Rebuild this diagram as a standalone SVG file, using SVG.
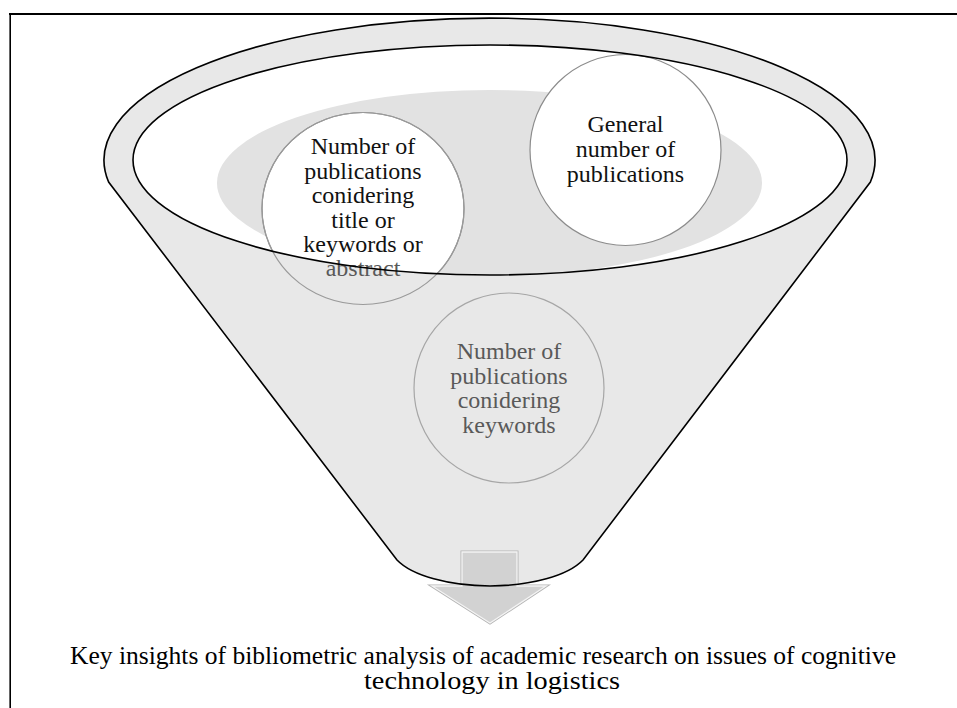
<svg xmlns="http://www.w3.org/2000/svg" width="957" height="708" viewBox="0 0 957 708">
  <style>
    text { font-family: 'Liberation Serif', 'DejaVu Serif', serif; }
    .t { font-size: 24px; text-anchor: middle; fill: #111111; }
    .tg { font-size: 24px; text-anchor: middle; fill: #595959; }
    .cap { font-size: 25px; text-anchor: middle; fill: #000000; }
    .circ { fill: #ffffff; stroke: #8c8c8c; stroke-width: 1.2; }
    .line { fill: none; stroke: #000000; stroke-width: 1.6; }
  </style>
  <defs>
    <path id="funnelPath" d="M108.6,182 A385.5,142 0 1 1 870.4,182 L583,560 A100,41 0 0 1 397,560 Z"/>
  </defs>
  <rect x="0" y="0" width="957" height="708" fill="#ffffff"/>
  <g id="frame">
    <line x1="9" y1="14" x2="957" y2="14" stroke="#000" stroke-width="2.2"/>
    <line x1="10.2" y1="13" x2="10.2" y2="708" stroke="#000" stroke-width="1.6"/>
  </g>
  <g id="funnel">
    <use href="#funnelPath" fill="#e8e8e8"/>
    <ellipse cx="490" cy="160" rx="357" ry="115" fill="#ffffff"/>
    <ellipse cx="489.5" cy="183" rx="272.5" ry="93" fill="#e2e2e2"/>
  </g>
  <g id="node-title-keywords-abstract">
    <ellipse class="circ" cx="363" cy="208.5" rx="101" ry="96"/>
    <text class="t" x="363" y="154">Number of</text>
    <text class="t" x="363" y="178.5">publications</text>
    <text class="t" x="363" y="203">conidering</text>
    <text class="t" x="363" y="227.5">title or</text>
    <text class="t" x="363" y="252">keywords or</text>
  </g>
  <g id="node-general">
    <circle class="circ" cx="625.5" cy="150" r="95.5"/>
    <text class="t" x="625.5" y="132">General</text>
    <text class="t" x="625.5" y="157">number of</text>
    <text class="t" x="625.5" y="182">publications</text>
  </g>
  <path fill="#e8e8e8" fill-rule="evenodd" d="M108.6,182 A385.5,142 0 1 1 870.4,182 L583,560 A100,41 0 0 1 397,560 Z M133,160 A357,115 0 1 0 847,160 A357,115 0 1 0 133,160 Z"/>
  <g id="node-title-keywords-abstract-lower">
    <ellipse cx="363" cy="208.5" rx="101" ry="96" fill="none" stroke="#9a9a9a" stroke-width="1.2"/>
    <text class="tg" x="363" y="276">abstract</text>
  </g>
  <g id="node-keywords">
    <circle cx="509" cy="388" r="95" fill="none" stroke="#a6a6a6" stroke-width="1.2"/>
    <text class="tg" x="509" y="359">Number of</text>
    <text class="tg" x="509" y="383.5">publications</text>
    <text class="tg" x="509" y="408">conidering</text>
    <text class="tg" x="509" y="432.5">keywords</text>
  </g>
  <g id="node-arrow">
    <path d="M462,552 H517 V586 H546 L490,623 L432,586 H462 Z" fill="#d2d2d2" stroke="#b4b4b4" stroke-width="3"/>
    <path d="M462,552 H517 V586 H546 L490,623 L432,586 H462 Z" fill="#d2d2d2" stroke="#f4f4f4" stroke-width="1.3"/>
  </g>
  <g id="connectors">
    <use href="#funnelPath" class="line"/>
    <ellipse class="line" cx="490" cy="160" rx="357" ry="115"/>
  </g>
  <g id="caption">
    <text class="cap" x="483" y="664" textLength="826" lengthAdjust="spacingAndGlyphs">Key insights of bibliometric analysis of academic research on issues of cognitive</text>
    <text class="cap" x="492" y="688.5" textLength="256" lengthAdjust="spacingAndGlyphs">technology in logistics</text>
  </g>
</svg>
